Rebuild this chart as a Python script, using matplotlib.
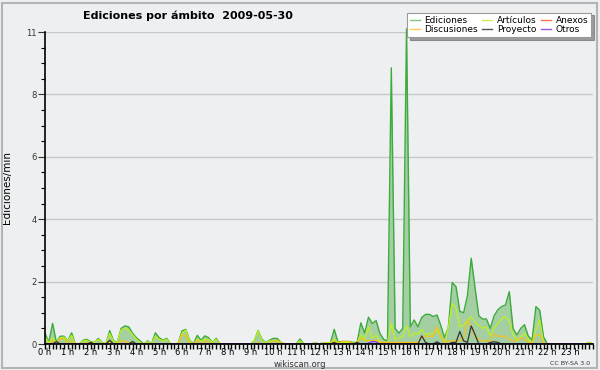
# -*- coding: utf-8 -*-
"""
Ediciones por ambito (wikiscan) - 2009-05-30
Serie cada 10 minutos, de 0 h a 24 h.
"""

import numpy as np
import matplotlib as mpl
mpl.use('Agg')
import matplotlib.pyplot as plt
from matplotlib.patches import Rectangle

##############
#    DATOS   #
##############
# una fila por hora, 6 valores (cada 10 min); ultimo valor = 24 h
ediciones = [
    0.35, 0.05, 0.66, 0.05, 0.25, 0.25,   # 0 h
    0.10, 0.36, 0.00, 0.00, 0.12, 0.15,   # 1 h
    0.07, 0.05, 0.18, 0.05, 0.00, 0.43,   # 2 h
    0.10, 0.05, 0.50, 0.58, 0.55, 0.35,   # 3 h
    0.20, 0.10, 0.00, 0.10, 0.00, 0.36,   # 4 h
    0.20, 0.12, 0.18, 0.00, 0.00, 0.02,   # 5 h
    0.42, 0.47, 0.12, 0.00, 0.28, 0.12,   # 6 h
    0.26, 0.20, 0.05, 0.18, 0.00, 0.00,   # 7 h
    0.00, 0.00, 0.00, 0.00, 0.00, 0.00,   # 8 h
    0.00, 0.10, 0.43, 0.15, 0.05, 0.12,   # 9 h
    0.18, 0.18, 0.05, 0.00, 0.00, 0.00,   # 10 h
    0.00, 0.16, 0.00, 0.00, 0.00, 0.04,   # 11 h
    0.00, 0.03, 0.04, 0.04, 0.47, 0.06,   # 12 h
    0.08, 0.08, 0.08, 0.05, 0.05, 0.68,   # 13 h
    0.35, 0.86, 0.66, 0.75, 0.34, 0.15,   # 14 h
    0.10, 8.85, 0.50, 0.35, 0.50, 10.10,  # 15 h
    0.55, 0.77, 0.55, 0.85, 0.95, 0.95,   # 16 h
    0.88, 0.93, 0.60, 0.20, 0.55, 1.97,   # 17 h
    1.84, 1.05, 1.00, 1.55, 2.75, 1.80,   # 18 h
    0.90, 0.80, 0.80, 0.50, 0.90, 1.10,   # 19 h
    1.20, 1.25, 1.68, 0.50, 0.29, 0.50,   # 20 h
    0.62, 0.25, 0.13, 1.20, 1.08, 0.23,   # 21 h
    0.00, 0.00, 0.00, 0.00, 0.00, 0.00,   # 22 h
    0.00, 0.00, 0.00, 0.00, 0.00, 0.05,   # 23 h
    0.00]

articulos = [
    0.23, 0.05, 0.20, 0.05, 0.20, 0.22,
    0.10, 0.28, 0.00, 0.00, 0.10, 0.12,
    0.05, 0.05, 0.15, 0.05, 0.00, 0.34,
    0.08, 0.05, 0.45, 0.50, 0.45, 0.30,
    0.15, 0.05, 0.00, 0.08, 0.00, 0.25,
    0.15, 0.10, 0.15, 0.00, 0.00, 0.00,
    0.35, 0.45, 0.10, 0.00, 0.15, 0.10,
    0.15, 0.15, 0.05, 0.15, 0.00, 0.00,
    0.00, 0.00, 0.00, 0.00, 0.00, 0.00,
    0.00, 0.10, 0.42, 0.12, 0.05, 0.10,
    0.10, 0.12, 0.05, 0.00, 0.00, 0.00,
    0.00, 0.10, 0.00, 0.00, 0.00, 0.04,
    0.00, 0.03, 0.04, 0.04, 0.15, 0.05,
    0.05, 0.05, 0.05, 0.03, 0.05, 0.29,
    0.15, 0.55, 0.18, 0.29, 0.07, 0.05,
    0.05, 0.66, 0.13, 0.20, 0.23, 0.58,
    0.23, 0.34, 0.32, 0.47, 0.29, 0.34,
    0.32, 0.45, 0.23, 0.04, 0.55, 1.30,
    1.14, 0.55, 0.60, 0.75, 0.88, 0.70,
    0.60, 0.50, 0.55, 0.26, 0.50, 0.66,
    0.80, 0.88, 0.72, 0.29, 0.13, 0.23,
    0.34, 0.15, 0.04, 0.45, 0.77, 0.04,
    0.00, 0.00, 0.00, 0.00, 0.00, 0.00,
    0.00, 0.00, 0.00, 0.00, 0.00, 0.05,
    0.00]

discusiones = [
    0.05, 0.00, 0.10, 0.00, 0.18, 0.15,
    0.00, 0.10, 0.00, 0.00, 0.00, 0.05,
    0.00, 0.00, 0.00, 0.00, 0.00, 0.05,
    0.00, 0.00, 0.10, 0.08, 0.05, 0.00,
    0.00, 0.00, 0.00, 0.00, 0.00, 0.00,
    0.00, 0.00, 0.00, 0.00, 0.00, 0.00,
    0.30, 0.25, 0.00, 0.00, 0.12, 0.00,
    0.10, 0.05, 0.00, 0.00, 0.00, 0.00,
    0.00, 0.00, 0.00, 0.00, 0.00, 0.00,
    0.00, 0.00, 0.05, 0.00, 0.00, 0.00,
    0.10, 0.10, 0.00, 0.00, 0.00, 0.00,
    0.00, 0.00, 0.00, 0.00, 0.00, 0.00,
    0.00, 0.00, 0.00, 0.00, 0.10, 0.00,
    0.08, 0.08, 0.08, 0.00, 0.03, 0.20,
    0.10, 0.12, 0.10, 0.12, 0.05, 0.05,
    0.05, 0.05, 0.05, 0.05, 0.05, 0.05,
    0.05, 0.05, 0.05, 0.20, 0.25, 0.25,
    0.25, 0.55, 0.26, 0.05, 0.10, 0.10,
    0.10, 0.10, 0.20, 0.77, 0.55, 0.23,
    0.15, 0.10, 0.10, 0.10, 0.32, 0.25,
    0.25, 0.25, 0.15, 0.10, 0.10, 0.20,
    0.15, 0.05, 0.05, 0.29, 0.29, 0.05,
    0.00, 0.00, 0.00, 0.00, 0.00, 0.00,
    0.00, 0.00, 0.00, 0.00, 0.00, 0.00,
    0.00]

# series casi vacias: (indice de 10 min, valor)
proyecto_pts = [(3, 0.08), (12, 0.05), (17, 0.12), (23, 0.08), (76, 0.05),
                (82, 0.05), (99, 0.26), (100, 0.05), (103, 0.07), (107, 0.05),
                (108, 0.05), (109, 0.40), (110, 0.10), (111, 0.05), (112, 0.58),
                (113, 0.30), (117, 0.05), (118, 0.07), (119, 0.05)]
otros_pts = [(85, 0.03), (86, 0.08), (87, 0.07)]
anexos_pts = []

horas = np.arange(len(ediciones)) / 6.0
tick_labels = ["%d h" % h for h in range(24)]

def serie(puntos):
    s = np.zeros(len(ediciones))
    for i, v in puntos:
        s[i] = v
    return s

proyecto = serie(proyecto_pts)
otros = serie(otros_pts)
anexos = serie(anexos_pts)

#################################################################################
#                               PLOT                                            #
#################################################################################
fondo = '#eeeff1'
plt.rcParams['font.family'] = 'DejaVu Sans'

fig = plt.figure(figsize=(6, 3.7), dpi=100, facecolor=fondo)
fig.patches.append(Rectangle((2/600, 2/370), 595/600, 365/370, transform=fig.transFigure,
                             fill=False, edgecolor='#b4b4b4', linewidth=1.5))
ax = fig.add_axes([45/600, 26/370, 548/600, 312/370], facecolor=fondo)

ax.fill_between(horas, ediciones, color='#a3cfa3', linewidth=0, clip_on=False)
ax.plot(horas, ediciones, color='#3caa3c', linewidth=1.0, clip_on=False)
ax.plot(horas, articulos, color='#bff01e', linewidth=0.9)
ax.plot(horas, discusiones, color='#f5c21a', linewidth=0.9)
ax.plot(horas, anexos, color='#ff7744', linewidth=0.9, alpha=0)
ax.plot(horas, proyecto, color='#333333', linewidth=0.9)
ax.plot(horas, otros, color='#8a33ff', linewidth=0.9)

ax.set_xlim(0, 24)
ax.set_ylim(0, 10)
ax.set_xticks(range(24))
ax.set_xticklabels(tick_labels, fontsize=6)
ax.set_xticks(np.arange(0, 24.01, 1/6.0), minor=True)
ax.set_yticks([0, 2, 4, 6, 8, 10])
ax.set_yticklabels(['0', '2', '4', '6', '8', '11'], fontsize=6)
ax.set_yticks(np.arange(0, 10.01, 0.5), minor=True)
ax.tick_params(axis='x', which='both', direction='out', length=3.5, width=1, pad=-0.5)
ax.tick_params(axis='y', which='major', direction='out', length=5, width=0.8, pad=1, colors='#333333')
ax.tick_params(axis='y', which='minor', direction='out', length=3, width=0.8)
ax.grid(True, axis='y', color='#c8c8c8', linewidth=1)
ax.set_axisbelow(True)
for lado in ['top', 'right']:
    ax.spines[lado].set_visible(False)
ax.spines['left'].set_linewidth(1.2)
ax.spines['bottom'].set_linewidth(1.2)
ax.set_ylabel("Ediciones/min", fontsize=7.5, labelpad=10)

fig.text(0.313, 0.957, "Ediciones por ámbito  2009-05-30", ha='center', va='center',
         fontsize=8, fontweight='bold')
fig.text(0.5, 0.015, "wikiscan.org", ha='center', va='center', fontsize=6, color='#333333')
fig.text(0.983, 0.017, "CC BY-SA 3.0", ha='right', va='center', fontsize=4.5, color='#333333')

# leyenda (orden por columnas para que quede igual que el original)
nombres = ['Ediciones', 'Discusiones', 'Artículos', 'Proyecto', 'Anexos', 'Otros']
colores = ['#7acc7a', '#ffcc44', '#ccee55', '#555555', '#ff7744', '#9955ee']
handles = [plt.Line2D([], [], color=c, linewidth=1) for c in colores]
leg = fig.legend(handles, nombres, loc='upper right', bbox_to_anchor=(0.993, 0.978),
                 ncol=3, fontsize=6.5, frameon=True, fancybox=False, shadow=True,
                 handlelength=1.1, handletextpad=0.5, columnspacing=0.5,
                 labelspacing=0.05, borderpad=0.35)
leg.get_frame().set_edgecolor('#999999')
leg.get_frame().set_linewidth(0.8)

plt.savefig('out.png', dpi=100, facecolor=fondo)
